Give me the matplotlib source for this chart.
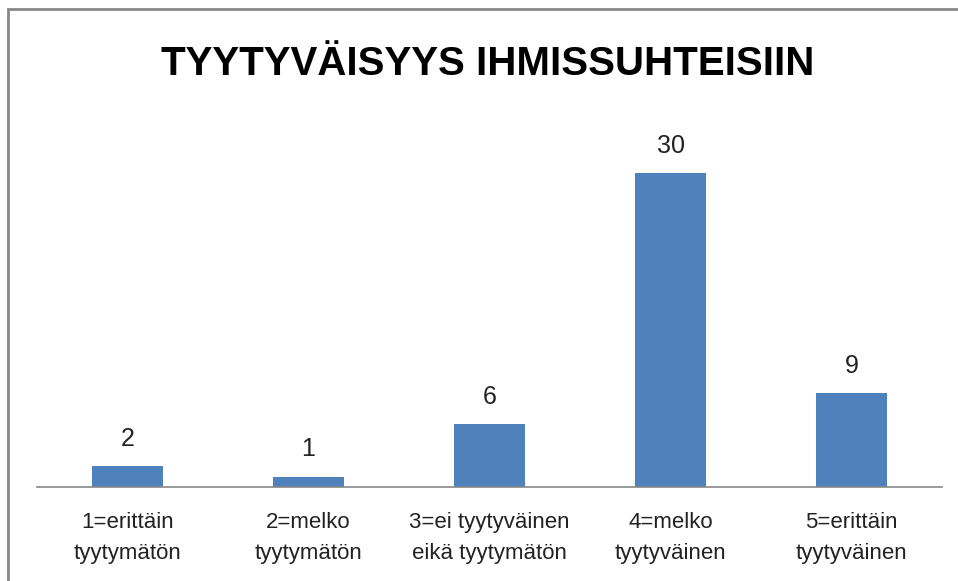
import matplotlib
matplotlib.use("Agg")
import matplotlib.pyplot as plt
from matplotlib.patches import Rectangle

categories = [
    "1=erittäin\ntyytymätön",
    "2=melko\ntyytymätön",
    "3=ei tyytyväinen\neikä tyytymätön",
    "4=melko\ntyytyväinen",
    "5=erittäin\ntyytyväinen",
]
values = [2, 1, 6, 30, 9]
title = "TYYTYVÄISYYS IHMISSUHTEISIIN"

W, H = 958, 581
fig = plt.figure(figsize=(W / 100, H / 100), dpi=100)
plt.rcParams["font.family"] = ["Liberation Sans", "DejaVu Sans"]

# outer chart border (only top/left visible in the reference)
fig.patches.append(Rectangle((8 / W, -0.1), 1.2, 1 - 9 / H + 0.1, transform=fig.transFigure,
                             fill=False, edgecolor="#888888", linewidth=2))

# plot area in pixels: x 37..942, baseline at y=487
ax = fig.add_axes([37 / W, (H - 487) / H, 905 / W, (487 - 120.6) / H])
x = range(len(values))
bars = ax.bar(x, values, width=0.39, color="#4f81bd")
ax.set_xlim(-0.5, len(values) - 0.5)
ax.set_ylim(0, 35)

for spine in ["top", "right", "left"]:
    ax.spines[spine].set_visible(False)
ax.spines["bottom"].set_color("#888888")
ax.spines["bottom"].set_linewidth(1.2)
ax.set_yticks([])
ax.set_xticks(list(x))
ax.set_xticklabels(categories, fontsize=16, color="#222222", linespacing=1.6)
ax.tick_params(axis="x", length=0, pad=18)

for b, v in zip(bars, values):
    ax.annotate(str(v), (b.get_x() + b.get_width() / 2, v), xytext=(0, 11),
                textcoords="offset points", ha="center", va="bottom", fontsize=18, color="#222222")

fig.text(488 / W, 1 - 64 / H, title, ha="center", va="center", fontsize=29, fontweight="bold")

fig.savefig("out.png", dpi=100)
